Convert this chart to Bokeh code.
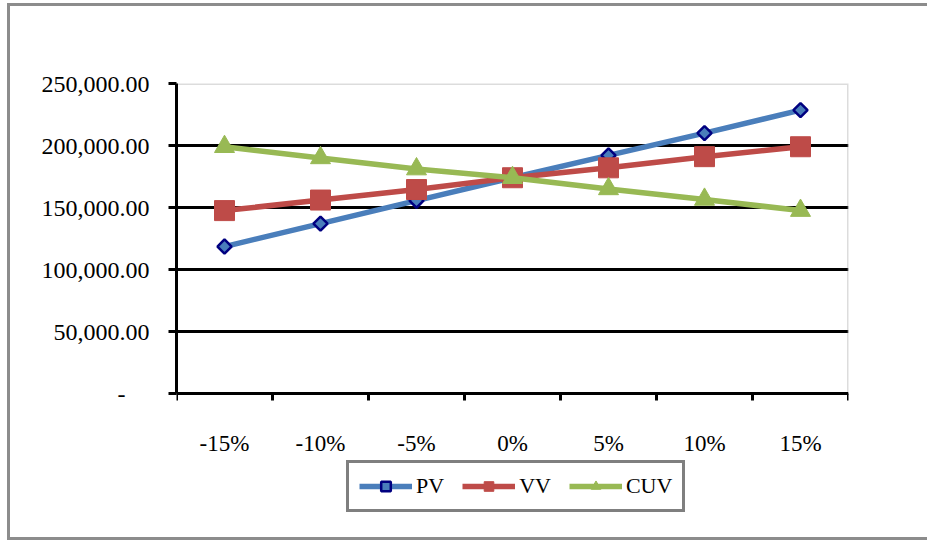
from bokeh.plotting import figure
from bokeh.models import (FixedTicker, Legend, LegendItem, BoxAnnotation,
                          ColumnDataSource, Range1d)
from bokeh.embed import file_html
from bokeh.resources import INLINE
import math

# Sensitivity of each variable to a change in the driver
categories = ["-15%", "-10%", "-5%", "0%", "5%", "10%", "15%"]
pv = [118500, 137000, 155500, 174000, 192000, 210000, 228500]
vv = [147500, 156000, 164500, 174000, 182000, 191000, 199000]
cuv = [199000, 190000, 181000, 174000, 165000, 156500, 147500]
series_names = ["PV", "VV", "CUV"]

y_ticks = [0, 50000, 100000, 150000, 200000, 250000]
y_tick_labels = ["-\u00a0\u00a0\u00a0\u00a0", "50,000.00", "100,000.00",
                 "150,000.00", "200,000.00", "250,000.00"]

FONT = "Liberation Serif"
BLUE = "#4A7EBB"
RED = "#BE4B48"
GREEN = "#98B954"
NAVY = "#000080"
FRAME_GREY = "#8C8C8C"
BORDER = f"3px solid {FRAME_GREY}"

Y_MAX = y_ticks[-1]
PLOT_PX = 310          # height of the value area in pixels
KEY_PX = 144           # room under the value area for the legend
Y_MIN = -Y_MAX * KEY_PX / PLOT_PX

xs = list(range(1, len(categories) + 1))
src = ColumnDataSource(dict(x=xs, pv=pv, vv=vv, cuv=cuv))

p = figure(output_backend="svg", toolbar_location=None,
           frame_width=672, frame_height=PLOT_PX + KEY_PX,
           min_border_left=166, min_border_right=79,
           min_border_top=77, min_border_bottom=0,
           x_range=Range1d(0.5, len(categories) + 0.5),
           y_range=Range1d(Y_MIN, Y_MAX),
           background_fill_color="white", border_fill_color="white")

# chart border around the whole figure
p.margin = (3, 0, 0, 7)
p.styles = {"border-left": BORDER, "border-top": BORDER,
            "border-bottom": BORDER}
p.outline_line_color = None

# grey border of the value area (left and bottom are covered by the axes)
p.add_layout(BoxAnnotation(left=0.5, right=len(categories) + 0.5,
                           bottom=0, top=Y_MAX,
                           fill_alpha=0, line_color=FRAME_GREY,
                           line_width=3, level="underlay"))

# x axis sits on the zero line: labels at category centres,
# ticks on the category boundaries
p.xaxis.fixed_location = 0
p.xaxis.ticker = FixedTicker(ticks=xs,
                             minor_ticks=[i + 0.5 for i in range(0, len(categories) + 1)])
p.xaxis.major_label_overrides = {x: c for x, c in zip(xs, categories)}
p.xaxis.major_tick_out = 0
p.xaxis.major_tick_in = 0
p.xaxis.minor_tick_out = 7
p.xaxis.minor_tick_in = 0
p.xaxis.minor_tick_line_color = "black"
p.xaxis.minor_tick_line_width = 3
p.xaxis.axis_line_color = "black"
p.xaxis.axis_line_width = 3
p.xaxis.major_label_standoff = 30
p.xaxis.major_label_text_font = FONT
p.xaxis.major_label_text_font_size = "23px"
p.xaxis.major_label_text_color = "black"

p.yaxis.bounds = (0, Y_MAX)
p.yaxis.ticker = FixedTicker(ticks=y_ticks, minor_ticks=[])
p.yaxis.major_label_overrides = {t: l for t, l in zip(y_ticks, y_tick_labels)}
p.yaxis.major_tick_out = 8
p.yaxis.major_tick_in = 0
p.yaxis.major_tick_line_color = "black"
p.yaxis.major_tick_line_width = 3
p.yaxis.axis_line_color = "black"
p.yaxis.axis_line_width = 3
p.yaxis.major_label_standoff = 19
p.yaxis.major_label_text_font = FONT
p.yaxis.major_label_text_font_size = "24px"
p.yaxis.major_label_text_color = "black"

p.xgrid.visible = False
p.ygrid.ticker = FixedTicker(ticks=y_ticks[1:-1])
p.ygrid.grid_line_color = "black"
p.ygrid.grid_line_width = 3

LW = 5.5
styles = [
    dict(line_color=BLUE, marker="square", angle=math.pi / 4, size=10,
         fill_color=BLUE, mark_line=NAVY, mark_width=2.5),
    dict(line_color=RED, marker="square", angle=0.0, size=20,
         fill_color=RED, mark_line=RED, mark_width=1),
    dict(line_color=GREEN, marker="triangle", angle=0.0, size=20,
         fill_color=GREEN, mark_line=GREEN, mark_width=1),
]

items = []
for name, col, st in zip(series_names, ["pv", "vv", "cuv"], styles):
    ln = p.line("x", col, source=src, line_color=st["line_color"],
                line_width=LW)
    mk = p.scatter("x", col, source=src, marker=st["marker"],
                   angle=st["angle"], size=st["size"],
                   fill_color=st["fill_color"], line_color=st["mark_line"],
                   line_width=st["mark_width"])
    items.append(LegendItem(label=name, renderers=[ln, mk]))

legend = Legend(items=items, orientation="horizontal", location=(170, 25))
legend.label_text_font = FONT
legend.label_text_font_size = "22px"
legend.label_text_color = "black"
legend.glyph_width = 53
legend.glyph_height = 24
legend.label_height = 24
legend.label_standoff = 4
legend.spacing = 18
legend.padding = 10
legend.margin = 0
legend.border_line_color = "black"
legend.border_line_width = 3
legend.background_fill_color = "white"
legend.background_fill_alpha = 1
p.add_layout(legend, "center")

open("out.html", "w").write(file_html(p, INLINE))
